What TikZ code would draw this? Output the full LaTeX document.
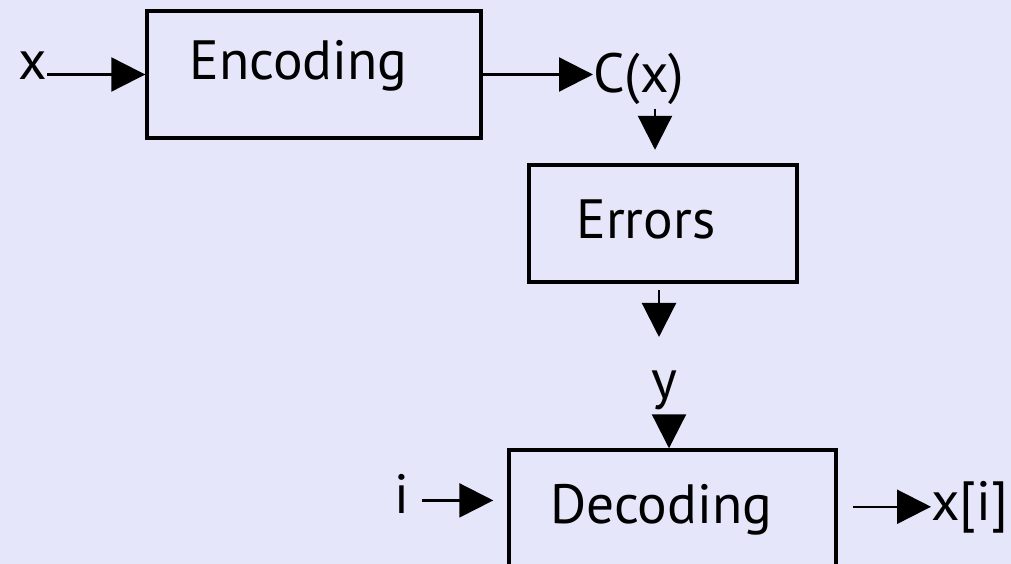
\documentclass[tikz,border=0pt]{standalone}
\usepackage{fontspec}
\setmainfont{PT Sans}
\usepackage{tikz}
\usetikzlibrary{arrows.meta, positioning, calc}
\definecolor{bgcol}{RGB}{230,230,250}

\begin{document}
\begin{tikzpicture}[
    x=0.02cm, y=-0.02cm,
    font=\fontsize{31.5}{38}\selectfont,
    % plain boxes, text is set as its own node
    box/.style={rectangle, draw=black, line width=0.07cm, fill=none, inner sep=0pt},
    lbl/.style={inner sep=0pt, anchor=base west},
    arr/.style={-{Triangle[length=0.68cm, width=0.68cm]}, line width=0.045cm, color=black}
]

% background and frame
\fill[bgcol] (0,0) rectangle (1011,564);
\useasboundingbox (0,0) rectangle (1011,564);

% =========================================================
% BOXES
% =========================================================
\node[box, minimum width=6.68cm, minimum height=2.54cm] (enc) at (314,74.5) {};
\node[box, line width=0.09cm, minimum width=5.36cm, minimum height=2.34cm] (err) at (663,223.5) {};
\node[box, minimum width=6.54cm, minimum height=3.0cm] (dec) at (672.5,525) {};

\node[lbl] (enctxt) at (189,80) {Encoding};
\node[lbl] (errtxt) at (576,239) {Errors};
\node[lbl] (dectxt) at (550,523) {Decoding};

% =========================================================
% SIGNALS
% =========================================================
\node[lbl] (xin) at (18,80) {x};
\node[lbl] (cx) at (593,93) {C(x)};
\node[inner sep=0pt, anchor=base] (ylab) at (664,398) {y};
\node[lbl] (iin) at (394,513) {i};
\node[lbl] (xout) at (931,520) {x[i]};

% =========================================================
% CONNECTORS
% =========================================================
\draw[arr] (xin.east |- enc.west) -- (enc.west);
\draw[arr] (enc.east) -- (enc.east -| cx.west);
\draw[arr, shorten <=0.06cm, shorten >=0.26cm] ([xshift=-0.16cm]err.north |- cx.south) -- ([xshift=-0.16cm]err.north);
\draw[arr, shorten <=0.12cm, shorten >=0.66cm] ([xshift=-0.08cm]err.south) -- ([xshift=-0.08cm]err.south |- ylab.north);
\draw[arr, shorten <=0.12cm] ([xshift=-0.07cm]dec.north |- ylab.south) -- ([xshift=-0.07cm]dec.north);
\draw[arr, shorten <=0.24cm, shorten >=0.28cm] ([yshift=-0.14cm]iin.east) -- ([yshift=-0.14cm]iin.east -| dec.west);
\draw[arr, shorten <=0.3cm] (dec.east |- xout.west) -- (xout.west);

\end{tikzpicture}
\end{document}
